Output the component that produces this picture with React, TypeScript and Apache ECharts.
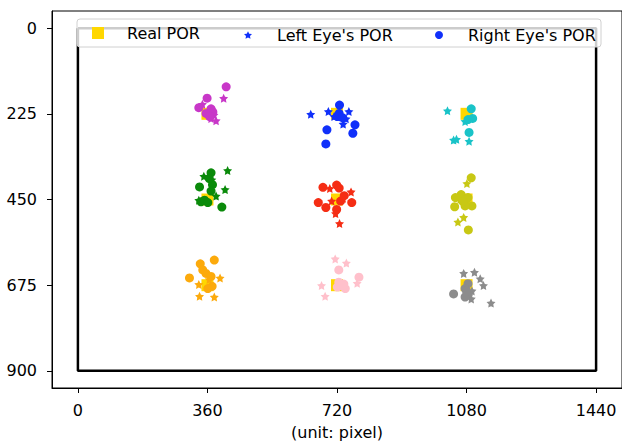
import React, { useEffect, useRef } from "react";
import * as echarts from "echarts";

// Target points (Real POR) on a 3x3 grid of a 1440x900 screen
const realPOR: [number, number][] = [
  [360, 225], [720, 225], [1080, 225],
  [360, 450], [720, 450], [1080, 450],
  [360, 675], [720, 675], [1080, 675],
];

// Left eye estimates, one list per target (same order as realPOR)
const leftEyePOR: [number, number][][] = [
  [[405, 184], [346, 200], [378, 228], [370, 237], [384, 243]],
  [[647, 226], [696, 219], [753, 219], [737, 252], [745, 238], [712, 232]],
  [[1027, 217], [1076, 245], [1087, 297], [1044, 294], [1052, 292]],
  [[416, 374], [350, 389], [409, 424], [384, 441], [336, 452], [372, 398]],
  [[700, 421], [759, 430], [705, 454], [737, 447], [716, 487], [727, 513]],
  [[1081, 408], [1062, 450], [1072, 497], [1056, 509], [1080, 455]],
  [[395, 656], [336, 673], [338, 704], [379, 706], [365, 660]],
  [[715, 606], [746, 617], [776, 670], [677, 676], [687, 704]],
  [[1072, 644], [1102, 641], [1118, 658], [1127, 676], [1093, 711], [1148, 722], [1095, 690]],
];

// Right eye estimates, one list per target
const rightEyePOR: [number, number][][] = [
  [[412, 154], [359, 184], [336, 209], [370, 212], [375, 220], [356, 224], [366, 232]],
  [[727, 202], [726, 224], [721, 232], [735, 235], [770, 254], [764, 276], [692, 267], [689, 304]],
  [[1093, 212], [1097, 237], [1084, 240], [1087, 274]],
  [[370, 380], [374, 411], [338, 417], [370, 428], [342, 456], [352, 452], [361, 458], [400, 470], [365, 395]],
  [[681, 418], [719, 412], [726, 420], [668, 458], [689, 471], [730, 454], [761, 458], [719, 476], [740, 440]],
  [[1093, 393], [1065, 437], [1049, 445], [1084, 445], [1047, 469], [1095, 467], [1076, 467], [1085, 530], [1070, 455]],
  [[379, 609], [340, 619], [347, 635], [356, 644], [370, 652], [310, 656], [373, 678], [361, 684]],
  [[725, 635], [781, 654], [725, 667], [739, 672], [721, 680], [743, 684], [735, 676]],
  [[1084, 671], [1076, 684], [1044, 698], [1085, 698], [1076, 706], [1080, 690]],
];

// Screen outline corners
const screenX = [0, 1440, 1440, 0, 0];
const screenY = [0, 0, 900, 900, 0];

const xTicks = [0, 360, 720, 1080, 1440];
const yTicks = [0, 225, 450, 675, 900];

const groupColors = [
  "#c837c8", "#1030fa", "#19c3c8",
  "#0a8a0a", "#f52d14", "#c8c814",
  "#fcaa0c", "#ffc0cb", "#8c8c8c",
];
const realColor = "#ffd700";

const STAR =
  "path://M0,-10L2.94,-4.05L9.51,-3.09L4.76,1.55L5.88,8.09L0,5.2L-5.88,8.09L-4.76,1.55L-9.51,-3.09L-2.94,-4.05Z";

const FONT = "DejaVu Sans";
const FS = 16;

export default function App() {
  const ref = useRef<HTMLDivElement>(null);

  useEffect(() => {
    if (!ref.current) return;
    const chart = echarts.init(ref.current, null, { renderer: "svg" });

    const starData = leftEyePOR.flatMap((pts, g) =>
      pts.map((p) => ({ value: p, itemStyle: { color: groupColors[g] } }))
    );
    const circleData = rightEyePOR.flatMap((pts, g) =>
      pts.map((p) => ({ value: p, itemStyle: { color: groupColors[g] } }))
    );

    const legendText = { fontFamily: FONT, fontSize: FS, color: "#000" };
    const spine = { show: true, onZero: false, lineStyle: { color: "#000", width: 1 } };

    chart.setOption({
      animation: false,
      grid: {
        left: 52,
        top: 11,
        width: 572,
        height: 381,
        show: true,
        borderColor: "#000",
        borderWidth: 1,
        backgroundColor: "transparent",
      },
      xAxis: {
        type: "value",
        min: -72,
        max: 1512,
        name: "(unit: pixel)",
        nameLocation: "middle",
        nameGap: 36,
        nameTextStyle: { fontFamily: FONT, fontSize: FS, color: "#000" },
        axisLine: spine,
        splitLine: { show: false },
        axisTick: {
          show: true,
          length: 5,
          customValues: xTicks,
          lineStyle: { color: "#000", width: 1 },
        },
        axisLabel: {
          customValues: xTicks,
          formatter: (v: number) => String(v),
          margin: 14,
          fontFamily: FONT,
          fontSize: FS,
          color: "#000",
        },
      },
      yAxis: {
        type: "value",
        inverse: true,
        min: -45,
        max: 945,
        axisLine: spine,
        splitLine: { show: false },
        axisTick: {
          show: true,
          length: 5,
          customValues: yTicks,
          lineStyle: { color: "#000", width: 1 },
        },
        axisLabel: {
          customValues: yTicks,
          formatter: (v: number) => String(v),
          margin: 15,
          fontFamily: FONT,
          fontSize: FS,
          color: "#000",
        },
      },
      graphic: [
        {
          type: "rect",
          z: 10,
          shape: { x: 77, y: 19, width: 524, height: 28, r: 3 },
          style: { fill: "rgba(255,255,255,0.8)", stroke: "#d0d0d0", lineWidth: 1 },
        },
      ],
      legend: [
        {
          z: 20,
          left: 92,
          top: 25,
          padding: 0,
          itemWidth: 12,
          itemHeight: 12,
          data: [{ name: "Real POR", icon: "rect" }],
          textStyle: { ...legendText, padding: [0, 0, 0, 18] },
        },
        {
          z: 20,
          left: 244,
          top: 27,
          padding: 0,
          itemWidth: 8,
          itemHeight: 8,
          data: [{ name: "Left Eye's POR", icon: STAR }],
          textStyle: { ...legendText, padding: [0, 0, 0, 20] },
        },
        {
          z: 20,
          left: 435,
          top: 27,
          padding: 0,
          itemWidth: 8,
          itemHeight: 8,
          data: [{ name: "Right Eye's POR", icon: "circle" }],
          textStyle: { ...legendText, padding: [0, 0, 0, 20] },
        },
      ],
      series: [
        {
          type: "line",
          name: "screen",
          data: screenX.map((x, i) => [x, screenY[i]]),
          symbol: "none",
          lineStyle: { color: "#000", width: 2.5 },
          silent: true,
          z: 1,
        },
        {
          type: "scatter",
          name: "Real POR",
          data: realPOR,
          symbol: "rect",
          symbolSize: 12,
          itemStyle: { color: realColor, opacity: 1 },
          z: 2,
        },
        {
          type: "scatter",
          name: "Left Eye's POR",
          data: starData,
          symbol: STAR,
          symbolSize: 9,
          itemStyle: { color: "#1030fa", opacity: 1 },
          z: 3,
        },
        {
          type: "scatter",
          name: "Right Eye's POR",
          data: circleData,
          symbol: "circle",
          symbolSize: 9,
          itemStyle: { color: "#1030fa", opacity: 1 },
          z: 4,
        },
      ],
    });

    return () => chart.dispose();
  }, []);

  return (
    <div
      ref={ref}
      style={{ width: 622, height: 445, position: "absolute", left: 0, top: 0 }}
    />
  );
}
